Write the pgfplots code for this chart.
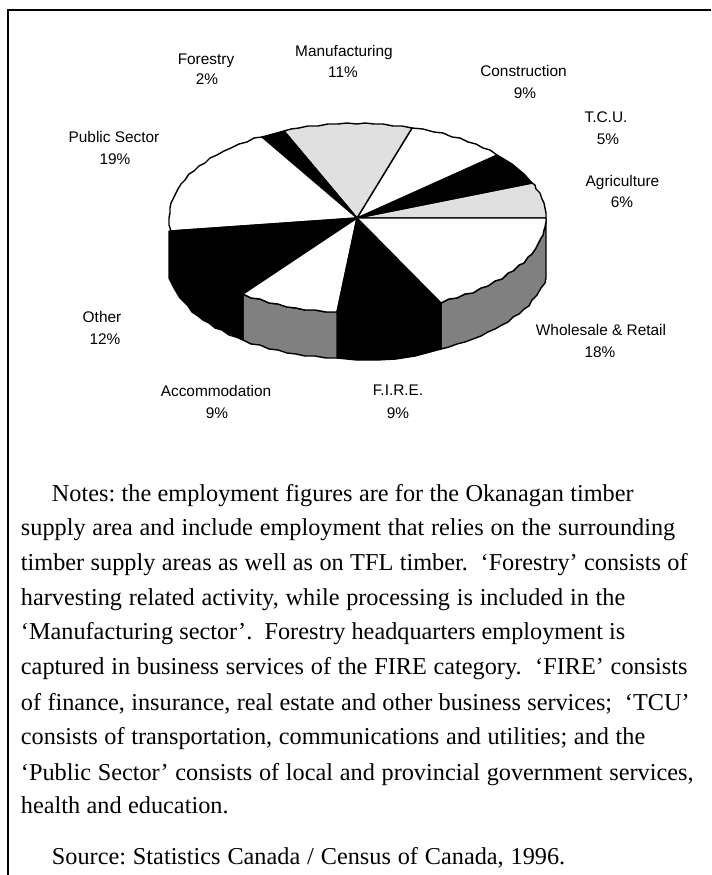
\documentclass[border=0pt]{standalone}
\usepackage{fontspec}
\setmainfont{Liberation Serif}
\newfontfamily\labelfont{Liberation Sans}
\usepackage{pgfplots}
\pgfplotsset{compat=1.18}
\newdimen\pxunit
\pxunit=0.75pt
\frenchspacing
% one line of the notes: baseline y, left x, width, text
\newcommand\noteline[4]{\node[anchor=base west,inner sep=0pt,font=\fontsize{18.2pt}{20pt}\selectfont] at (axis cs:#2,#1) {\makebox[#3\pxunit][s]{#4}};}
% sector name or share, centred on x, on baseline y
\newcommand\pielabel[3]{\node[anchor=base,inner sep=0pt,font=\labelfont\fontsize{11.55pt}{13pt}\selectfont] at (axis cs:#1,#2) {#3};}
\definecolor{wall}{HTML}{808080}
\definecolor{pale}{HTML}{E0E0E0}
\begin{document}
\begin{tikzpicture}
\useasboundingbox (0,0) rectangle (533.25pt,656.25pt);
\begin{axis}[
  at={(0,0)},anchor=south west,
  scale only axis,width=533.25pt,height=656.25pt,
  xmin=0,xmax=711,ymin=0,ymax=875,y dir=reverse,
  hide axis,
  slice/.style={draw=black,line width=1.05pt,line join=round},
]
% outer frame: only its top and left sides fall on the page
\addplot[black,line width=1.6pt] coordinates {(8,875)(8,10)(711,10)};

% side walls of the disc
\addplot[slice,fill=wall] coordinates {(441,303)(449,299)(457,298)(465,294)(473,293)(481,288)(488,286)(495,281)(502,279)(508,273)(513,271)(519,265)(524,263)(528,257)(532,254)(536,248)(538,244)(541,238)(543,235)(544,230)(545,227)(546,222)(546,218)(546,278)(545,283)(541,288)(537,295)(532,300)(529,306)(524,309)(519,314)(513,317)(508,322)(502,325)(495,329)(488,332)(481,336)(473,339)(465,342)(457,344)(449,347)(441,349)(441,303)};
\addplot[slice,fill=black] coordinates {(441,303)(415,308)(396,311)(377,312)(357,313)(337,312)(337,358)(357,360)(377,360)(396,359)(415,356)(430,352)(441,349)(441,303)};
\addplot[slice,fill=wall] coordinates {(337,312)(326,312)(315,310)(305,310)(296,308)(287,307)(278,304)(269,303)(260,299)(251,298)(243,294)(243,340)(251,344)(260,345)(269,349)(278,350)(287,353)(296,354)(305,356)(315,356)(326,358)(337,358)(337,312)};
\addplot[slice,fill=black] coordinates {(243,294)(236,291)(222,284)(209,277)(198,268)(188,260)(180,251)(175,241)(171,231)(169,231)(169,278)(174,288)(180,298)(188,306)(192,312)(198,316)(203,320)(209,323)(215,328)(222,330)(229,335)(236,337)(243,340)(243,294)};

% top face, one polygon per sector
\addplot[slice,fill=pale] coordinates {(357,218)(546,218)(546,213)(545,208)(544,203)(542,199)(540,193)(536,189)(535,185)(532,183)(357,218)}; % Agriculture
\addplot[slice,fill=black] coordinates {(357,218)(532,183)(524,174)(512,164)(497,155)(357,218)}; % T.C.U.
\addplot[slice,fill=white] coordinates {(357,218)(497,155)(490,150)(483,148)(476,144)(468,142)(460,138)(452,137)(443,133)(434,132)(423,129)(412,128)(357,218)}; % Construction
\addplot[slice,fill=pale] coordinates {(357,218)(412,128)(402,126)(393,126)(383,124)(374,124)(365,123)(357,124)(347,123)(338,124)(328,124)(318,126)(308,126)(299,128)(291,129)(284,131)(357,218)}; % Manufacturing
\addplot[slice,fill=black] coordinates {(357,218)(284,131)(262,137)(357,218)}; % Forestry
\addplot[slice,fill=white] coordinates {(357,218)(262,137)(254,138)(247,142)(239,144)(231,148)(224,151)(217,155)(210,158)(205,163)(199,166)(194,171)(189,174)(185,180)(181,184)(178,189)(176,193)(173,199)(171,203)(170,208)(170,213)(169,218)(169,225)(171,231)(357,218)}; % Public Sector
\addplot[slice,fill=black] coordinates {(357,218)(171,231)(175,241)(180,251)(188,260)(198,268)(209,277)(222,284)(236,291)(243,294)(357,218)}; % Other
\addplot[slice,fill=white] coordinates {(357,218)(243,294)(251,298)(260,299)(269,303)(278,304)(287,307)(296,308)(305,310)(315,310)(326,312)(337,312)(357,218)}; % Accommodation
\addplot[slice,fill=black] coordinates {(357,218)(337,312)(357,313)(377,312)(396,311)(415,308)(441,303)(357,218)}; % F.I.R.E.
\addplot[slice,fill=white] coordinates {(357,218)(441,303)(449,299)(457,298)(465,294)(473,293)(481,288)(488,286)(495,281)(502,279)(508,273)(513,271)(519,265)(524,263)(528,257)(532,254)(536,248)(538,244)(541,238)(543,235)(544,230)(545,227)(546,222)(546,218)(357,218)}; % Wholesale & Retail

% sector labels
\pielabel{206}{64.3}{Forestry}
\pielabel{207}{84.3}{2\%}
\pielabel{344}{56.7}{Manufacturing}
\pielabel{343}{77.7}{11\%}
\pielabel{523.5}{76}{Construction}
\pielabel{525}{98.3}{9\%}
\pielabel{606}{122.3}{T.C.U.}
\pielabel{608}{144}{5\%}
\pielabel{622.5}{186}{Agriculture}
\pielabel{622}{207.7}{6\%}
\pielabel{114}{142.3}{Public Sector}
\pielabel{115}{164.3}{19\%}
\pielabel{102}{322.3}{Other}
\pielabel{105}{344.3}{12\%}
\pielabel{216}{396}{Accommodation}
\pielabel{217}{418.7}{9\%}
\pielabel{398}{395.7}{F.I.R.E.}
\pielabel{398}{418.3}{9\%}
\pielabel{601}{335.7}{Wholesale \& Retail}
\pielabel{600}{357.7}{18\%}

% notes below the chart
\noteline{501.7}{51.7}{581.6}{Notes: the employment figures are for the Okanagan timber}
\noteline{535.9}{20.7}{654.3}{supply area and include employment that relies on the surrounding}
\noteline{570.5}{20.7}{666.6}{timber supply areas as well as on TFL timber.~ ‘Forestry’ consists of}
\noteline{605.1}{20.7}{604.3}{harvesting related activity, while processing is included in the}
\noteline{639.5}{20.7}{604.3}{‘Manufacturing sector’.~ Forestry headquarters employment is}
\noteline{674.1}{20.7}{666.6}{captured in business services of the FIRE category.~ ‘FIRE’ consists}
\noteline{710}{20.7}{668.6}{of finance, insurance, real estate and other business services;~ ‘TCU’}
\noteline{744}{20.7}{624.3}{consists of transportation, communications and utilities; and the}
\noteline{780}{20.7}{672.6}{‘Public Sector’ consists of local and provincial government services,}
\noteline{813.3}{20.7}{207.6}{health and education.}
\noteline{864}{51.7}{513.3}{Source: Statistics Canada / Census of Canada, 1996.}
\end{axis}
\end{tikzpicture}
\end{document}
